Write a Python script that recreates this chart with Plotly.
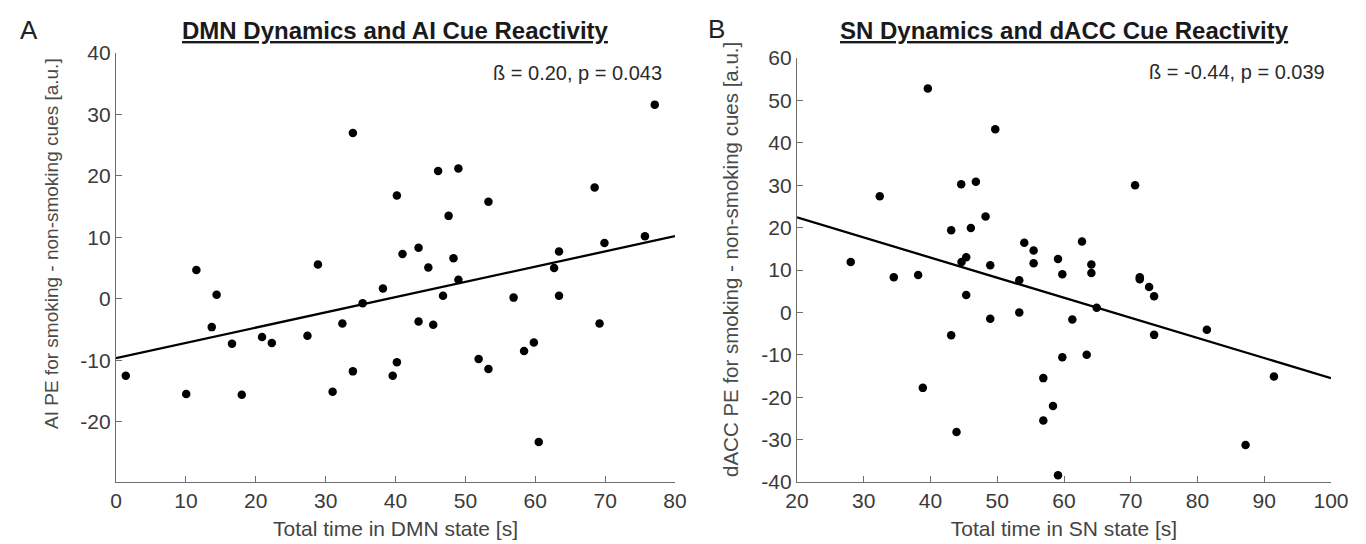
import plotly.graph_objects as go

# ---------------- data ----------------
dmn_time = [1.4, 10.05, 11.5, 13.7, 14.4, 16.6, 18.0, 20.9, 22.3, 27.4, 28.9, 31.0,
            32.4, 33.9, 33.9, 35.3, 38.2, 39.6, 40.2, 40.2, 41.0, 43.3, 43.3, 44.7,
            45.4, 46.1, 46.8, 47.6, 48.3, 49.0, 49.0, 51.9, 53.3, 53.3, 56.9, 58.4,
            59.8, 60.5, 62.7, 63.4, 63.4, 68.5, 69.2, 69.9, 75.7, 77.1]
ai_pe = [-12.5, -15.5, 4.7, -4.6, 0.65, -7.3, -15.6, -6.2, -7.2, -6.0, 5.6, -15.1,
         -4.0, 27.0, -11.8, -0.7, 1.7, -12.5, 16.8, -10.3, 7.3, 8.3, -3.7, 5.1,
         -4.2, 20.8, 0.5, 13.5, 6.6, 21.2, 3.1, -9.8, 15.8, -11.4, 0.2, -8.5,
         -7.1, -23.3, 5.0, 7.7, 0.5, 18.1, -4.0, 9.1, 10.2, 31.6]
dmn_fit_x = [0, 80]
dmn_fit_y = [-9.65, 10.2]

sn_time = [28.05, 32.4, 34.5, 38.15, 39.6, 38.85, 43.1, 43.1, 43.9, 44.6, 44.65, 45.35,
           45.35, 46.05, 46.8, 48.25, 48.95, 48.95, 49.7, 53.3, 53.3, 54.05, 55.45, 55.45,
           56.9, 56.9, 58.35, 59.1, 59.1, 59.75, 59.75, 61.25, 62.7, 64.1, 64.1, 63.4,
           64.9, 70.65, 71.35, 71.35, 72.75, 73.5, 73.5, 81.4, 87.2, 91.45]
dacc_pe = [11.9, 27.4, 8.3, 8.8, 52.8, -17.8, 19.4, -5.4, -28.2, 30.2, 11.9, 13.0,
           4.1, 19.9, 30.8, 22.6, 11.1, -1.5, 43.2, 7.6, 0.0, 16.4, 14.6, 11.6,
           -15.5, -25.5, -22.1, 12.6, -38.4, 9.0, -10.6, -1.7, 16.7, 11.3, 9.3, -10.0,
           1.1, 30.0, 8.3, 7.8, 6.0, 3.8, -5.3, -4.1, -31.3, -15.1]
sn_fit_x = [20, 100]
sn_fit_y = [22.4, -15.5]

# tick values and labels (hyphen-minus as in the original figure)
x1_ticks = [0, 10, 20, 30, 40, 50, 60, 70, 80]
y1_ticks = [-20, -10, 0, 10, 20, 30, 40]
x2_ticks = [20, 30, 40, 50, 60, 70, 80, 90, 100]
y2_ticks = [-40, -30, -20, -10, 0, 10, 20, 30, 40, 50, 60]
x1_labels = ["0", "10", "20", "30", "40", "50", "60", "70", "80"]
y1_labels = ["-20", "-10", "0", "10", "20", "30", "40"]
x2_labels = ["20", "30", "40", "50", "60", "70", "80", "90", "100"]
y2_labels = ["-40", "-30", "-20", "-10", "0", "10", "20", "30", "40", "50", "60"]

titles = ["DMN Dynamics and AI Cue Reactivity", "SN Dynamics and dACC Cue Reactivity"]
stats = ["ß = 0.20, p = 0.043", "ß = -0.44, p = 0.039"]
xlabels = ["Total time in DMN state [s]", "Total time in SN state [s]"]
ylabels = ["AI PE for smoking - non-smoking cues [a.u.]",
           "dACC PE for smoking - non-smoking cues [a.u.]"]
panel_letters = ["A", "B"]

# ---------------- figure ----------------
W, H = 1366, 544
FONT = "Liberation Sans, Arial, sans-serif"

fig = go.Figure()
fig.add_trace(go.Scatter(x=dmn_time, y=ai_pe, mode="markers", xaxis="x", yaxis="y",
                         marker=dict(color="black", size=8.5), showlegend=False))
fig.add_trace(go.Scatter(x=dmn_fit_x, y=dmn_fit_y, mode="lines", xaxis="x", yaxis="y",
                         line=dict(color="black", width=2.3), showlegend=False))
fig.add_trace(go.Scatter(x=sn_time, y=dacc_pe, mode="markers", xaxis="x2", yaxis="y2",
                         marker=dict(color="black", size=8.5), showlegend=False))
fig.add_trace(go.Scatter(x=sn_fit_x, y=sn_fit_y, mode="lines", xaxis="x2", yaxis="y2",
                         line=dict(color="black", width=2.3), showlegend=False))

def px_x(p):
    return p / W

def px_y(p):
    return 1 - p / H

axis_common = dict(showgrid=False, zeroline=False, showline=True, linecolor="#6e6e6e",
                   linewidth=1.3, ticks="inside", ticklen=6, tickcolor="#6e6e6e",
                   tickwidth=1.2, mirror=False, automargin=False, tickmode="array",
                   tickfont=dict(family=FONT, size=21, color="#3a3a3a"))

fig.update_layout(
    width=W, height=H,
    margin=dict(l=0, r=0, t=0, b=0),
    paper_bgcolor="white", plot_bgcolor="white",
    xaxis=dict(domain=[px_x(108), px_x(667)], range=[0, 80],
               tickvals=x1_ticks, ticktext=x1_labels,
               anchor="y", title=dict(text=xlabels[0], standoff=9,
                                      font=dict(family=FONT, size=21, color="#444")),
               **axis_common),
    yaxis=dict(domain=[px_y(474), px_y(45)], range=[-29.8, 40],
               tickvals=y1_ticks, ticktext=y1_labels,
               anchor="x", **axis_common),
    xaxis2=dict(domain=[px_x(789), px_x(1323)], range=[20, 100],
                tickvals=x2_ticks, ticktext=x2_labels,
                anchor="y2", title=dict(text=xlabels[1], standoff=9,
                                        font=dict(family=FONT, size=21, color="#444")),
                **axis_common),
    yaxis2=dict(domain=[px_y(474), px_y(50)], range=[-40, 60],
                tickvals=y2_ticks, ticktext=y2_labels,
                anchor="x2", **axis_common),
)

annotations = []
# panel titles (bold, underlined)
for xr, t in [("x domain", titles[0]), ("x2 domain", titles[1])]:
    annotations.append(dict(text="<u><b>" + t + "</b></u>", xref=xr, x=0.5, yref="paper",
                            y=px_y(23), xanchor="center", yanchor="middle", showarrow=False,
                            font=dict(family=FONT, size=24, color="#1a1a1a")))
# statistics
annotations.append(dict(text=stats[0], xref="x domain", x=0.98, yref="y domain", y=0.953,
                        xanchor="right", yanchor="middle", showarrow=False,
                        font=dict(family=FONT, size=20, color="#2a2a2a")))
annotations.append(dict(text=stats[1], xref="x2 domain", x=0.9925, yref="y2 domain", y=0.967,
                        xanchor="right", yanchor="middle", showarrow=False,
                        font=dict(family=FONT, size=20, color="#2a2a2a")))
# y-axis titles
annotations.append(dict(text=ylabels[0], xref="paper", x=px_x(43), yref="paper", y=px_y(236),
                        xanchor="center", yanchor="middle", textangle=-90, showarrow=False,
                        font=dict(family=FONT, size=19, color="#4a4a4a")))
annotations.append(dict(text=ylabels[1], xref="paper", x=px_x(722), yref="paper", y=px_y(252),
                        xanchor="center", yanchor="middle", textangle=-90, showarrow=False,
                        font=dict(family=FONT, size=20.5, color="#4a4a4a")))
# panel letters
annotations.append(dict(text=panel_letters[0], xref="paper", x=px_x(21), yref="paper", y=px_y(22),
                        xanchor="center", yanchor="middle", showarrow=False,
                        font=dict(family=FONT, size=26, color="#222")))
annotations.append(dict(text=panel_letters[1], xref="paper", x=px_x(708), yref="paper", y=px_y(21),
                        xanchor="center", yanchor="middle", showarrow=False,
                        font=dict(family=FONT, size=26, color="#222")))

fig.update_layout(annotations=annotations)
fig.write_html("out.html")
